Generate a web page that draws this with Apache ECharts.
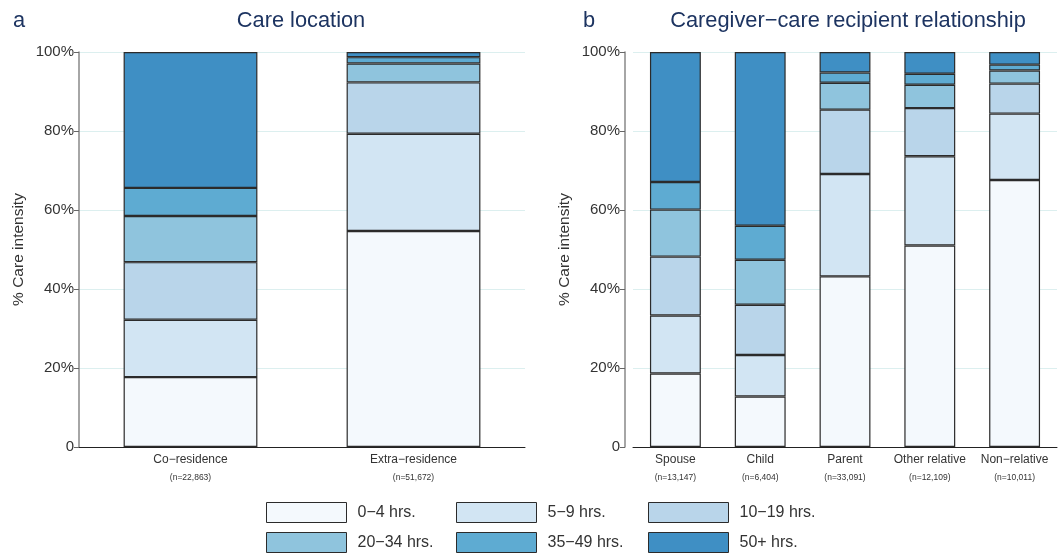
<!DOCTYPE html>
<html><head><meta charset="utf-8">
<script src="https://cdn.jsdelivr.net/npm/echarts@6/dist/echarts.min.js"></script>
<style>html,body{margin:0;padding:0;background:#fff}#c{width:1059px;height:554px}</style>
</head><body><div id="c"></div>
<script>
const hourBands = ['0−4 hrs.', '5−9 hrs.', '10−19 hrs.', '20−34 hrs.', '35−49 hrs.', '50+ hrs.'];
const bandColors = ['#f4f9fd', '#d2e5f3', '#b9d5ea', '#8fc4dd', '#5eabd2', '#3f8fc4'];

const locationCats = ['Co−residence', 'Extra−residence'];
const locationN = ['22,863', '51,672'];
const loc_0_4   = [17.7, 54.7];
const loc_5_9   = [14.5, 24.6];
const loc_10_19 = [14.6, 13.0];
const loc_20_34 = [11.7, 4.8];
const loc_35_49 = [7.1, 1.6];
const loc_50p   = [34.4, 1.3];

const relationCats = ['Spouse', 'Child', 'Parent', 'Other relative', 'Non−relative'];
const relationN = ['13,147', '6,404', '33,091', '12,109', '10,011'];
const rel_0_4   = [18.6, 12.8, 43.2, 51.0, 67.6];
const rel_5_9   = [14.7, 10.5, 25.9, 22.6, 16.8];
const rel_10_19 = [14.9, 12.7, 16.3, 12.2, 7.6];
const rel_20_34 = [11.9, 11.4, 6.8, 5.9, 3.3];
const rel_35_49 = [7.0, 8.6, 2.6, 2.8, 1.5];
const rel_50p   = [32.9, 44.0, 5.2, 5.5, 3.2];

const yTicks = [0, 20, 40, 60, 80, 100];

const locSeries = [loc_0_4, loc_5_9, loc_10_19, loc_20_34, loc_35_49, loc_50p];
const relSeries = [rel_0_4, rel_5_9, rel_10_19, rel_20_34, rel_35_49, rel_50p];

const FONT = 'Liberation Sans, Arial, sans-serif';
const navy = '#1d3461';

function xAxisDef(gridIndex, cats, ns) {
  return {
    type: 'category', gridIndex, data: cats.map((c, i) => c + '\n' + '(n=' + ns[i] + ')'),
    axisLine: { lineStyle: { color: '#222', width: 1 } },
    axisTick: { show: false },
    axisLabel: {
      interval: 0, margin: 4, fontFamily: FONT,
      formatter: function (v) { const p = v.split('\n'); return '{a|' + p[0] + '}\n{b|' + p[1] + '}'; },
      rich: {
        a: { fontSize: 12, color: '#333', fontFamily: FONT, lineHeight: 18 },
        b: { fontSize: 8.5, color: '#333', fontFamily: FONT, lineHeight: 18 }
      }
    }
  };
}
function yAxisDef(gridIndex, offset) {
  return {
    type: 'value', gridIndex, min: 0, max: 100, interval: 20, offset: offset,
    name: '% Care intensity', nameLocation: 'middle', nameGap: 52, nameRotate: 90,
    nameTextStyle: { fontSize: 15.5, color: '#333', fontFamily: FONT },
    axisLine: { show: true, lineStyle: { color: '#888', width: 1.5 } },
    axisTick: { show: true, length: 5, lineStyle: { color: '#666' } },
    axisLabel: { fontSize: 15, color: '#333', fontFamily: FONT, margin: 5,
      formatter: v => (yTicks.includes(v) ? (v === 0 ? '0' : v + '%') : '') },
    splitLine: { show: true, lineStyle: { color: '#dcefef', width: 1 } }
  };
}

const series = [];
hourBands.forEach((name, i) => {
  const base = {
    name, type: 'bar', barWidth: '60%',
    itemStyle: { color: bandColors[i], borderColor: '#2b2b2b', borderWidth: 1.2 },
    emphasis: { disabled: true }
  };
  series.push(Object.assign({}, base, { xAxisIndex: 0, yAxisIndex: 0, stack: 'loc', data: locSeries[i] }));
  series.push(Object.assign({}, base, { xAxisIndex: 1, yAxisIndex: 1, stack: 'rel', data: relSeries[i] }));
});

const legendCols = [[0, 3], [1, 4], [2, 5]];
const legendLefts = [266, 456, 648];
const legends = legendCols.map((col, k) => ({
  data: col.map(i => ({ name: hourBands[i], icon: 'rect' })), orient: 'vertical', left: legendLefts[k], top: 502,
  padding: 0, itemWidth: 80, itemHeight: 20, itemGap: 9, selectedMode: false,
  itemStyle: { borderColor: '#2b2b2b', borderWidth: 1 },
  textStyle: { fontSize: 16, color: '#333', fontFamily: FONT, padding: [0, 0, 0, 6] }
}));

const titleStyle = { fontSize: 21.8, fontWeight: 'normal', color: navy, fontFamily: FONT };
const chart = echarts.init(document.getElementById('c'), null, { renderer: 'canvas' });
chart.setOption({
  animation: false,
  backgroundColor: '#fff',
  title: [
    { text: 'a', left: 8, top: 5, textStyle: titleStyle },
    { text: 'Care location', left: 296, top: 5, textAlign: 'center', textStyle: titleStyle },
    { text: 'b', left: 578, top: 5, textStyle: titleStyle },
    { text: 'Caregiver−care recipient relationship', left: 843, top: 5, textAlign: 'center', textStyle: titleStyle }
  ],
  legend: legends,
  grid: [
    { left: 79, top: 52, width: 446, height: 395 },
    { left: 633, top: 52, width: 424, height: 395 }
  ],
  xAxis: [xAxisDef(0, locationCats, locationN), xAxisDef(1, relationCats, relationN)],
  yAxis: [yAxisDef(0, 0), yAxisDef(1, 8)],
  series
});
</script></body></html>
